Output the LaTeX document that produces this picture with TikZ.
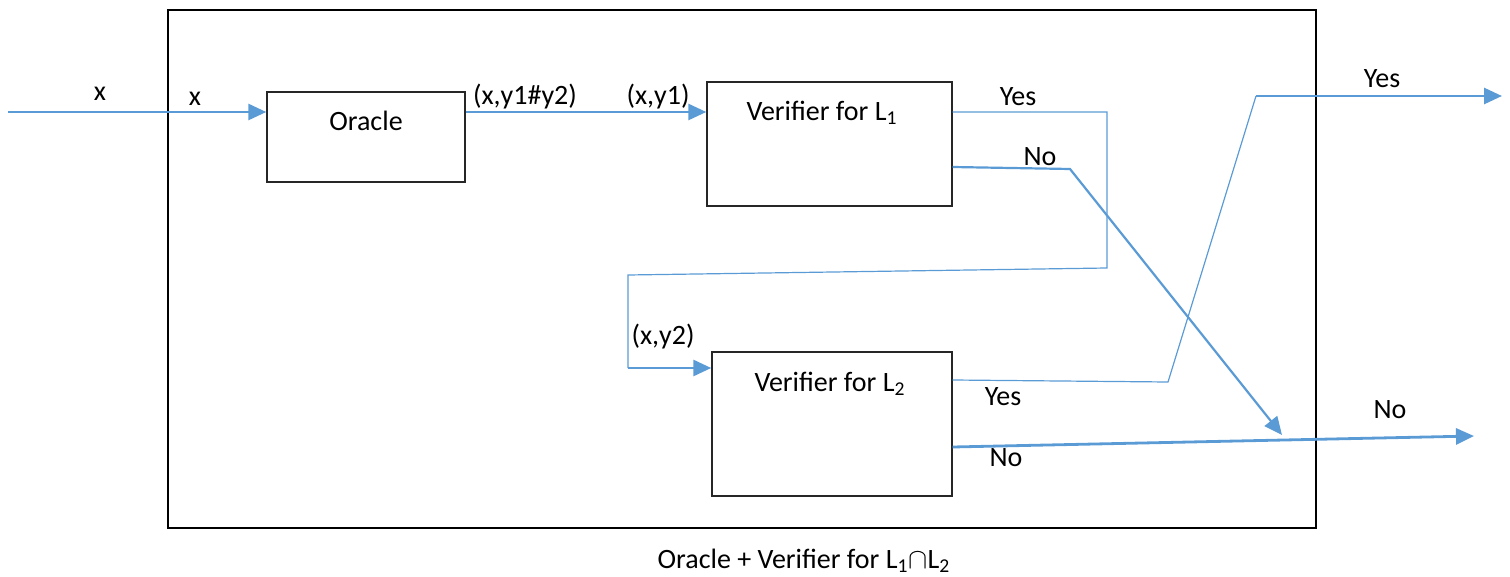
\documentclass[tikz,border=0pt]{standalone}
\usepackage{fontspec}
\setmainfont{Carlito}
\usetikzlibrary{arrows.meta}
\definecolor{flowblue}{RGB}{91,155,213}
\tikzset{
  box/.style={rectangle, draw=black!85, line width=0.7pt},
  txt/.style={font=\fontsize{14}{16}\selectfont, inner sep=0pt},
  flow/.style={draw=flowblue, line width=1.4pt, -{Triangle[length=9pt,width=8pt]}},
  thinflow/.style={draw=flowblue, line width=0.6pt},
}
\begin{document}
\begin{tikzpicture}[x=0.5pt, y=-0.5pt]
  \useasboundingbox (0,0) rectangle (1510,577);
  \node (frame) [rectangle, draw, line width=0.9pt, minimum width=574pt, minimum height=259pt] at (742,269) {};
  \node (caption) [txt] at (804,561) {Oracle + Verifier for L\textsubscript{1}$\cap$L\textsubscript{2}};
  % Nodes
  \node (oracle) [box, minimum width=99pt, minimum height=45pt] at (366,137) {};
  \node (ver1) [box, minimum width=122.5pt, minimum height=62pt] at (829.5,144) {};
  \node (ver2) [box, minimum width=120pt, minimum height=72pt] at (832,424) {};
  \node (oracle-t) [txt] at (366,121) {Oracle};
  \node (ver1-t) [txt] at (822,113) {Verifier for L\textsubscript{1}};
  \node (ver2-t) [txt] at (830,384) {Verifier for L\textsubscript{2}};
  % Coordinates
  \coordinate (in) at (8,112);
  \coordinate (yes1-a) at (1107,112);
  \coordinate (yes1-b) at (1107,268);
  \coordinate (yes1-c) at (628,275);
  \coordinate (yes1-d) at (628,368);
  \coordinate (no1-a) at (1070,169);
  \coordinate (no1-end) at (1282,435);
  \coordinate (yes2-a) at (1168,382);
  \coordinate (yes2-b) at (1256,96);
  \coordinate (yes-out) at (1502,96);
  \coordinate (no-out) at (1474,436);
  % Arrows
  \draw[flow] (in) -- (in -| oracle.west);
  \draw[flow] (in -| oracle.east) -- (in -| ver1.west);
  \draw[thinflow] ([yshift=16pt]ver1.east) -- (yes1-a) -- (yes1-b) -- (yes1-c) -- (yes1-d);
  \draw[flow] (yes1-d) -- (yes1-d -| ver2.west);
  \draw[flow, line width=1.1pt] ([yshift=-11.5pt]ver1.east) -- (no1-a) -- (no1-end);
  \draw[thinflow] ([yshift=22pt]ver2.east) -- (yes2-a) -- (yes2-b);
  \draw[flow] (yes2-b) -- (yes-out);
  \draw[flow] ([yshift=-11.5pt]ver2.east) -- (no-out);
  % Labels
  \node (x-out) [txt] at (100,94) {x};
  \node (x-in) [txt] at (195,99) {x};
  \node (pair12) [txt] at (525,97) {(x,y1\#y2)};
  \node (pair1) [txt] at (658,97) {(x,y1)};
  \node (pair2) [txt] at (663,337) {(x,y2)};
  \node (yes1-l) [txt] at (1018,97) {Yes};
  \node (no1-l) [txt] at (1040,157) {No};
  \node (yes2-l) [txt] at (1003,397) {Yes};
  \node (no2-l) [txt] at (1006,458) {No};
  \node (yes-l) [txt] at (1382,79) {Yes};
  \node (no-l) [txt] at (1390,410) {No};
\end{tikzpicture}
\end{document}
